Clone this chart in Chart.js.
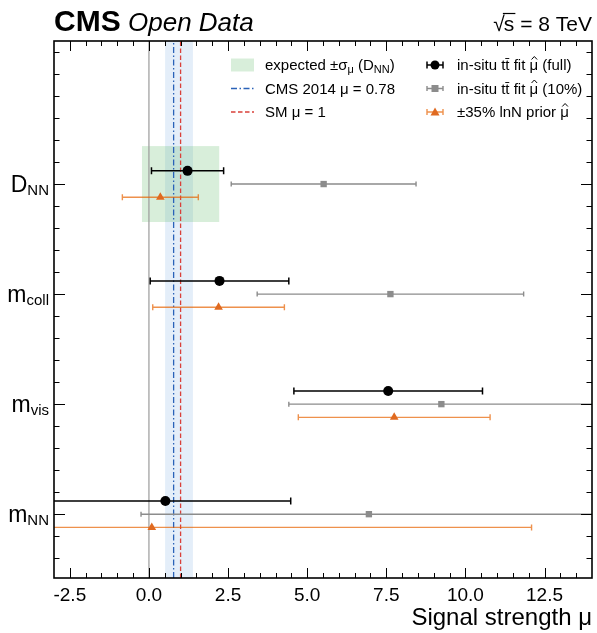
<!DOCTYPE html>
<html><head><meta charset="utf-8">
<script src="https://cdn.jsdelivr.net/npm/chart.js@4.4.1/dist/chart.umd.min.js"></script>
<style>html,body{margin:0;padding:0;background:#fff;}#wrap{width:597px;height:633px;position:relative;}</style>
</head><body><div id="wrap"><canvas id="c" width="597" height="633"></canvas></div>
<script>
// ---- data ----
const catMain = ['D', 'm', 'm', 'm'];
const catSub = ['NN', 'coll', 'vis', 'NN'];
const catPos = [3, 2, 1, 0];
const fullMu = [1.22, 2.23, 7.56, 0.52];
const fullErr = [1.14, 2.19, 2.98, 3.96];
const tenMu = [5.52, 7.63, 9.24, 6.95];
const tenErr = [2.92, 4.21, 4.82, 7.20];
const priorMu = [0.36, 2.20, 7.75, 0.09];
const priorErr = [1.20, 2.08, 3.03, 12.0];
const expectedMu = 1.0, expectedErr = 1.22;
const cmsMu = 0.78, cmsBand = [0.51, 1.39];
const smMu = 1.0;
const xTickValues = [-2.5, 0, 2.5, 5, 7.5, 10, 12.5];
const xMin = -3, xMax = 14, yMin = -0.58, yMax = 4.3;

const FONT = '"Liberation Sans", Arial, Helvetica, sans-serif';
const OFF = 0.12;
const mk = (mu, dy) => mu.map((v, i) => ({x: v, y: catPos[i] + dy}));

function rich(ctx, parts, x, y, align) {
  let w = 0;
  parts.forEach(p => { ctx.font = p.f; w += ctx.measureText(p.t).width; });
  let cx = align === 'right' ? x - w : x;
  parts.forEach(p => {
    ctx.font = p.f; ctx.fillText(p.t, cx, y + (p.dy || 0));
    const pw = ctx.measureText(p.t).width;
    if (p.hat) {
      const mid = cx + pw / 2 + 0.5;
      ctx.save(); ctx.strokeStyle = ctx.fillStyle; ctx.lineWidth = 1;
      ctx.beginPath();
      ctx.moveTo(mid - 2.8, y - 10.5); ctx.lineTo(mid, y - 13.5); ctx.lineTo(mid + 2.8, y - 10.5);
      ctx.stroke(); ctx.restore();
    }
    cx += pw;
  });
  return w;
}

const plug = {
  id: 'custom',
  beforeDatasetsDraw(chart) {
    const {ctx, chartArea: a, scales: {x, y}} = chart;
    ctx.save();
    ctx.beginPath(); ctx.rect(a.left, a.top, a.width, a.height); ctx.clip();
    const b0 = x.getPixelForValue(cmsBand[0]), b1 = x.getPixelForValue(cmsBand[1]);
    ctx.fillStyle = 'rgba(90,150,215,0.16)';
    ctx.fillRect(b0, a.top, b1 - b0, a.height);
    const g0 = x.getPixelForValue(expectedMu - expectedErr), g1 = x.getPixelForValue(expectedMu + expectedErr);
    const gy0 = y.getPixelForValue(catPos[0] + 0.345), gy1 = y.getPixelForValue(catPos[0] - 0.345);
    ctx.fillStyle = 'rgba(60,170,70,0.2)';
    ctx.fillRect(g0, gy0, g1 - g0, gy1 - gy0);
    ctx.restore();
  },
  beforeDatasetDraw(chart, args) {
    const ds = chart.data.datasets[args.index];
    if (!ds.errX) return;
    const {ctx, chartArea: a, scales: {x, y}} = chart;
    ctx.save();
    ctx.beginPath(); ctx.rect(a.left, a.top, a.width, a.height); ctx.clip();
    ctx.strokeStyle = ds.barColor; ctx.lineWidth = ds.barWidth;
    ds.data.forEach((p, i) => {
      const py = y.getPixelForValue(p.y);
      const l = x.getPixelForValue(p.x - ds.errX[i]), r = x.getPixelForValue(p.x + ds.errX[i]);
      ctx.beginPath();
      ctx.moveTo(l, py); ctx.lineTo(r, py);
      ctx.moveTo(l, py - ds.cap); ctx.lineTo(l, py + ds.cap);
      ctx.moveTo(r, py - ds.cap); ctx.lineTo(r, py + ds.cap);
      ctx.stroke();
    });
    ctx.restore();
  },
  afterDraw(chart) {
    const {ctx, chartArea: a, scales: {x, y}} = chart;
    ctx.save();
    // frame
    ctx.strokeStyle = '#000'; ctx.lineWidth = 1.6;
    ctx.strokeRect(a.left, a.top, a.width, a.height);
    // ticks
    ctx.lineWidth = 1;
    ctx.beginPath();
    for (let k = -6; k <= 28; k++) {
      const v = k * 0.5;
      if (v <= xMin || v >= xMax) continue;
      const len = (k % 5 === 0) ? 10 : 5;
      const px = Math.round(x.getPixelForValue(v)) + 0.5;
      ctx.moveTo(px, a.bottom); ctx.lineTo(px, a.bottom - len);
      ctx.moveTo(px, a.top); ctx.lineTo(px, a.top + len);
    }
    for (let k = -3; k <= 22; k++) {
      const v = k * 0.2;
      if (v <= yMin || v >= yMax) continue;
      const major = catPos.some(c => Math.abs(c - v) < 1e-6);
      const len = major ? 11 : 5.5;
      const py = Math.round(y.getPixelForValue(v)) + 0.5;
      ctx.moveTo(a.left, py); ctx.lineTo(a.left + len, py);
      ctx.moveTo(a.right, py); ctx.lineTo(a.right - len, py);
    }
    ctx.stroke();
    // y category labels
    ctx.fillStyle = '#000'; ctx.textBaseline = 'alphabetic';
    catPos.forEach((c, i) => {
      const py = y.getPixelForValue(c);
      rich(ctx, [{t: catMain[i], f: '23px ' + FONT}, {t: catSub[i], f: '15px ' + FONT, dy: 3}], a.left - 5, py + 8, 'right');
    });
    // x title
    rich(ctx, [{t: 'Signal strength \u03bc', f: '24px ' + FONT}], a.right, 625, 'right');
    // header
    rich(ctx, [{t: 'CMS', f: 'bold 30px ' + FONT}], a.left, 31);
    rich(ctx, [{t: 'Open Data', f: 'italic 26px ' + FONT}], a.left + 74, 31);
    ctx.font = '21px ' + FONT;
    const rest = ' = 8 TeV';
    const wr = ctx.measureText(rest).width;
    const ws = ctx.measureText('s').width;
    const wq = ctx.measureText('\u221a').width;
    const xr = a.right - wr;
    ctx.fillText(rest, xr, 31);
    ctx.fillText('s', xr - ws, 31);
    ctx.fillText('\u221a', xr - ws - wq + 1, 31);
    ctx.lineWidth = 1.2; ctx.beginPath();
    ctx.moveTo(xr - ws - 1, 13.5); ctx.lineTo(xr + 1, 13.5); ctx.stroke();
    // legend
    const rows = [65, 88.5, 112];
    const lf = '15px ' + FONT, sf = '11px ' + FONT;
    ctx.fillStyle = 'rgba(60,170,70,0.2)';
    ctx.fillRect(231, rows[0] - 6.5, 23, 13);
    ctx.lineWidth = 1.3;
    ctx.strokeStyle = '#2a62b8'; ctx.setLineDash([6, 2.5, 1.5, 2.5]);
    ctx.beginPath(); ctx.moveTo(231, rows[1]); ctx.lineTo(254, rows[1]); ctx.stroke();
    ctx.strokeStyle = '#d9403a'; ctx.setLineDash([4.5, 2.5]);
    ctx.beginPath(); ctx.moveTo(231, rows[2]); ctx.lineTo(254, rows[2]); ctx.stroke();
    ctx.setLineDash([]);
    ctx.fillStyle = '#000';
    rich(ctx, [{t: 'expected \u00b1\u03c3', f: lf}, {t: '\u03bc', f: sf, dy: 3}, {t: ' (D', f: lf}, {t: 'NN', f: sf, dy: 3}, {t: ')', f: lf}], 265, rows[0] + 5);
    rich(ctx, [{t: 'CMS 2014 \u03bc = 0.78', f: lf}], 265, rows[1] + 5);
    rich(ctx, [{t: 'SM \u03bc = 1', f: lf}], 265, rows[2] + 5);
    const mx0 = 427, mx1 = 443, mc = 435;
    const drawEb = (yy, col, w, cap) => {
      ctx.strokeStyle = col; ctx.lineWidth = w; ctx.beginPath();
      ctx.moveTo(mx0, yy); ctx.lineTo(mx1, yy);
      ctx.moveTo(mx0, yy - cap); ctx.lineTo(mx0, yy + cap);
      ctx.moveTo(mx1, yy - cap); ctx.lineTo(mx1, yy + cap);
      ctx.stroke();
    };
    drawEb(rows[0], '#000', 1.5, 3.5);
    ctx.fillStyle = '#000'; ctx.beginPath(); ctx.arc(mc, rows[0], 4.5, 0, Math.PI * 2); ctx.fill();
    drawEb(rows[1], '#8c8c8c', 1.4, 2.5);
    ctx.fillStyle = '#8c8c8c'; ctx.fillRect(mc - 3.5, rows[1] - 3.5, 7, 7);
    drawEb(rows[2], 'rgba(231,99,0,0.7)', 1.4, 3);
    ctx.fillStyle = '#e06a20'; ctx.beginPath();
    ctx.moveTo(mc, rows[2] - 4.5); ctx.lineTo(mc + 4.5, rows[2] + 3.5); ctx.lineTo(mc - 4.5, rows[2] + 3.5); ctx.closePath(); ctx.fill();
    ctx.fillStyle = '#000';
    const tt = 'in-situ t\u0074\u0304 fit ';
    rich(ctx, [{t: tt, f: lf}, {t: '\u03bc', f: lf, hat: true}, {t: ' (full)', f: lf}], 457, rows[0] + 5);
    rich(ctx, [{t: tt, f: lf}, {t: '\u03bc', f: lf, hat: true}, {t: ' (10%)', f: lf}], 457, rows[1] + 5);
    rich(ctx, [{t: '\u00b135% lnN prior ', f: lf}, {t: '\u03bc', f: lf, hat: true}], 457, rows[2] + 5);
    ctx.restore();
  }
};

new Chart(document.getElementById('c'), {
  type: 'scatter',
  data: {
    datasets: [
      {label: 'zero', data: [{x: 0, y: yMin}, {x: 0, y: yMax}], showLine: true, borderColor: '#9a9a9a', borderWidth: 1.2, pointRadius: 0, order: 12},
      {label: 'CMS 2014', data: [{x: cmsMu, y: yMin}, {x: cmsMu, y: yMax}], showLine: true, borderColor: '#2a62b8', borderWidth: 1.3, borderDash: [6, 2.5, 1.5, 2.5], pointRadius: 0, order: 11},
      {label: 'SM', data: [{x: smMu, y: yMin}, {x: smMu, y: yMax}], showLine: true, borderColor: '#d9403a', borderWidth: 1.3, borderDash: [4.5, 2.5], pointRadius: 0, order: 10},
      {label: '10%', data: mk(tenMu, 0), errX: tenErr, barColor: '#8c8c8c', barWidth: 1.4, cap: 2.5,
        pointStyle: 'rect', pointRadius: 4.5, backgroundColor: '#8c8c8c', borderColor: '#8c8c8c', borderWidth: 0, order: 3},
      {label: 'prior', data: mk(priorMu, -OFF), errX: priorErr, barColor: 'rgba(231,99,0,0.7)', barWidth: 1.4, cap: 3,
        pointStyle: 'triangle', pointRadius: 5, backgroundColor: '#e06a20', borderColor: '#e06a20', borderWidth: 0, order: 2},
      {label: 'full', data: mk(fullMu, OFF), errX: fullErr, barColor: '#000', barWidth: 1.5, cap: 3.5,
        pointStyle: 'circle', pointRadius: 5, backgroundColor: '#000', borderColor: '#000', borderWidth: 0, order: 1}
    ]
  },
  options: {
    responsive: false, animation: false, events: [],
    layout: {padding: {top: 41, right: 4, left: 0, bottom: 0}},
    plugins: {legend: {display: false}, tooltip: {enabled: false}},
    scales: {
      x: {type: 'linear', min: xMin, max: xMax,
        afterBuildTicks: s => { s.ticks = xTickValues.map(v => ({value: v})); },
        afterFit: s => { s.height = 55; },
        grid: {display: false, drawTicks: false}, border: {display: false},
        ticks: {padding: 6, color: '#000', font: {family: FONT, size: 19}, maxRotation: 0, autoSkip: false,
          callback: v => v.toFixed(1)}},
      y: {type: 'linear', min: yMin, max: yMax,
        afterFit: s => { s.width = 54; },
        grid: {display: false, drawTicks: false}, border: {display: false},
        ticks: {display: false}}
    }
  },
  plugins: [plug]
});
</script></body></html>
